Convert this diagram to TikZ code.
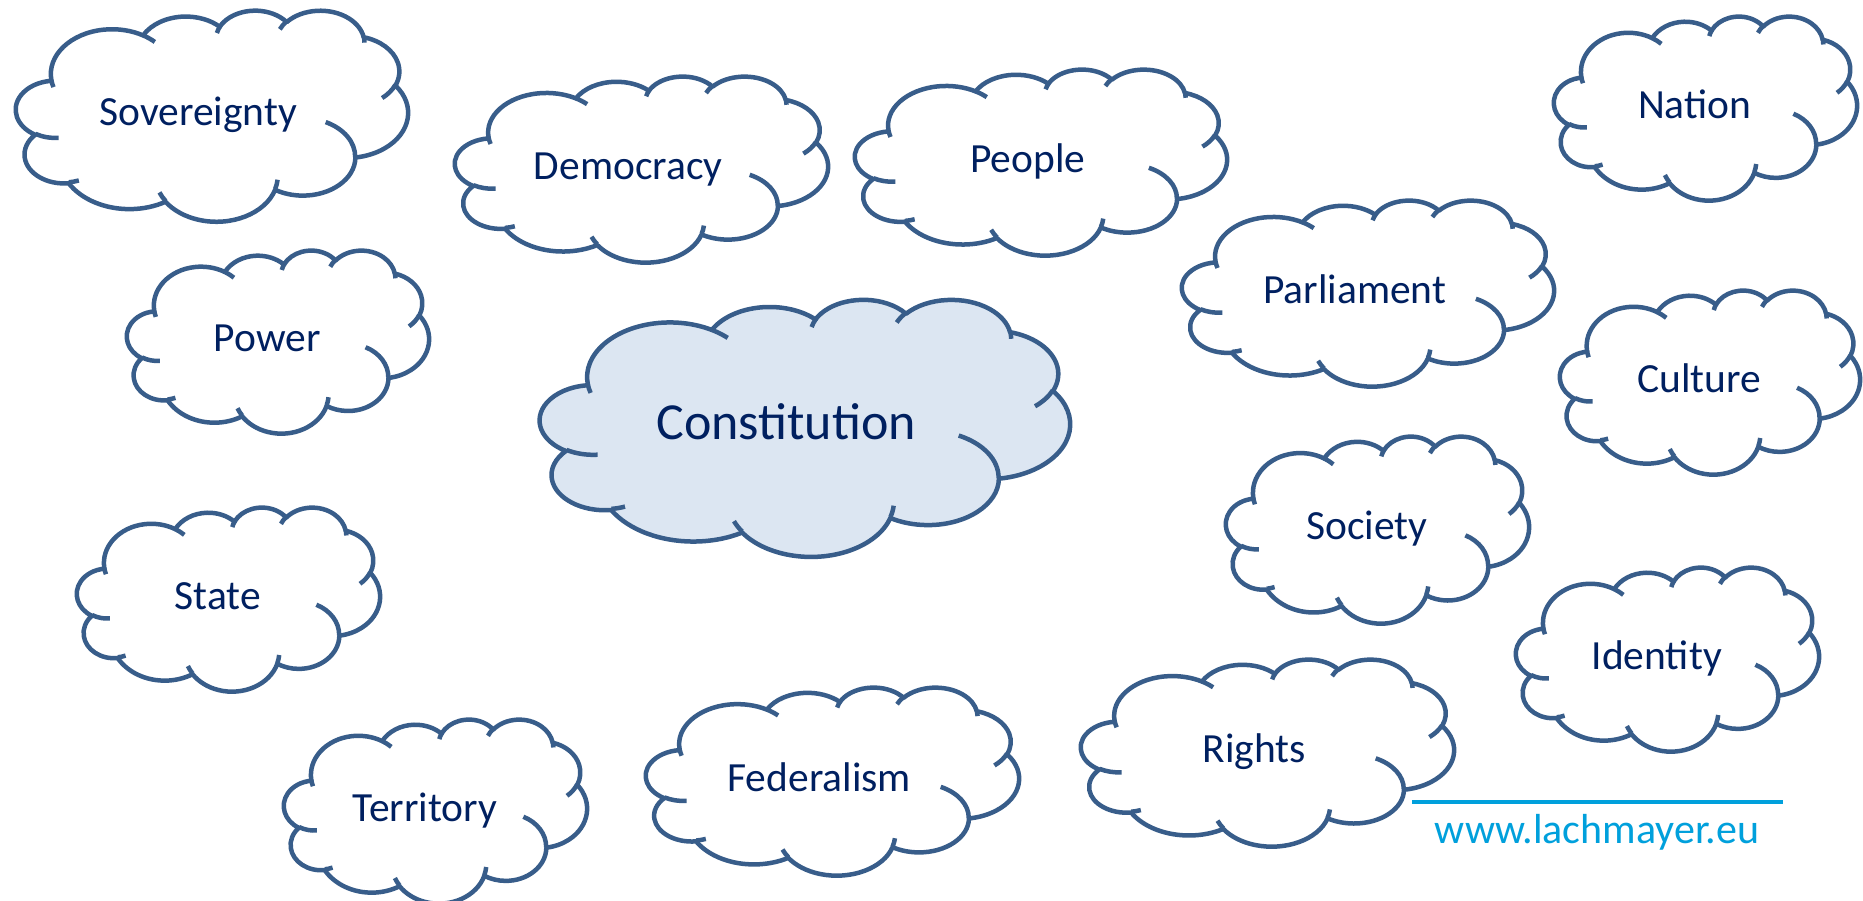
\documentclass[tikz,border=0pt]{standalone}
\usepackage{fontspec}
\setmainfont{Carlito}
\definecolor{cloudline}{RGB}{56,93,138}
\definecolor{cloudtext}{RGB}{0,32,96}
\definecolor{cloudfill}{RGB}{220,230,242}
\definecolor{webblue}{RGB}{0,160,220}

% cloud outline: x radius/y radius/start/sweep, in a 432 x 432 box
\newcommand{\outerarcs}{67.53/91.90/-190.4875/123.7805, 53.33/72.67/-144.1024/89.9452,
  43.65/59.45/-145.8079/99.7230, 48.57/65.95/-130.9861/117.2417,
  53.33/72.73/-78.7089/109.0269, 67.75/92.20/-46.2673/130.2690,
  57.85/78.67/0.6250/114.0333, 67.52/92.15/22.4516/115.1726,
  77.20/105.43/66.2426/75.7110, 43.60/59.18/-274.9421/146.7356,
  43.45/59.45/-246.8285/152.5189}
% inner strokes: start x/start y/x radius/y radius/start/sweep
\newcommand{\innerarcs}{46.93/261.77/43.45/59.45/86.7420/26.4295,
  69.28/348.99/43.60/59.18/73.6105/11.4475,
  164.78/390.90/67.52/92.15/137.6242/14.0811,
  288.27/347.51/67.52/92.15/6.4533/15.9984,
  341.29/229.54/57.85/78.67/-70.2924/70.9174,
  417.98/153.54/53.33/72.73/30.3180/27.7515,
  383.24/54.26/48.57/65.95/-13.7443/14.8589,
  290.78/39.52/48.57/65.95/-149.1815/18.1954,
  221.41/47.20/43.65/59.45/-163.4943/17.6864,
  140.00/51.92/67.53/91.90/-66.7070/12.3194,
  41.27/157.89/67.53/91.90/157.6544/11.8582}

% \cloud[font size]{name}{left}{top}{width}{height}{fill}{text}
\newcommand{\cloud}[8][41.5]{%
  \pgfmathsetmacro{\cloudw}{#5/432}%
  \pgfmathsetmacro{\cloudh}{#6/432}%
  \pgfmathsetmacro{\cloudx}{#3}%
  \pgfmathsetmacro{\cloudy}{900-#4}%
  \draw[cloud line, fill=#7] ({\cloudx+39*\cloudw},{\cloudy-143.7*\cloudh})
    \foreach \ra/\rb/\sa/\sw in \outerarcs {
      arc[x radius={\ra*\cloudw pt}, y radius={\rb*\cloudh pt},
        start angle={-vis(\ra,\rb,\sa)},
        end angle={-vis(\ra,\rb,\sa+\sw)-360*round((vis(\ra,\rb,\sa)+\sw-vis(\ra,\rb,\sa+\sw))/360)}]
    } -- cycle;
  \draw[cloud line]
    \foreach \mx/\my/\ra/\rb/\sa/\sw in \innerarcs {
      ({\cloudx+\mx*\cloudw},{\cloudy-\my*\cloudh})
      arc[x radius={\ra*\cloudw pt}, y radius={\rb*\cloudh pt},
        start angle={-vis(\ra,\rb,\sa)},
        end angle={-vis(\ra,\rb,\sa+\sw)-360*round((vis(\ra,\rb,\sa)+\sw-vis(\ra,\rb,\sa+\sw))/360)}]
    };
  \node[cloud label, font=\fontsize{#1}{#1}\selectfont] (#2)
    at ({\cloudx+0.4644*#5},{\cloudy-0.4768*#6-0.35*#1}) {#8};
}

\begin{document}
\begin{tikzpicture}[x=1pt, y=1pt,
  declare function={vis(\rx,\ry,\an)=atan2(\rx*sin(\an),\ry*cos(\an));},
  cloud line/.style={draw=cloudline, line width=4.5pt, line join=round},
  cloud label/.style={text=cloudtext, inner sep=0pt, anchor=base}]
\fill[white] (0,0) rectangle (1863,900);
\useasboundingbox (0,0) rectangle (1863,900);

\cloud{sov}{16}{10}{392}{211}{white}{Sovereignty}
\cloud{dem}{455}{76}{373}{186}{white}{Democracy}
\cloud{peo}{855}{69}{372}{186}{white}{People}
\cloud{nat}{1554}{16}{303}{184}{white}{Nation}
\cloud{par}{1182}{200}{372}{186}{white}{Parliament}
\cloud{pow}{127}{250}{302}{183}{white}{Power}
\cloud[52]{con}{540}{299}{530}{257}{cloudfill}{Constitution}
\cloud{cul}{1560}{290}{300}{184}{white}{Culture}
\cloud{soc}{1226}{436}{303}{187}{white}{Society}
\cloud{sta}{77}{507}{303}{184}{white}{State}
\cloud{ide}{1516}{567}{303}{184}{white}{Identity}
\cloud{rig}{1081}{659}{373}{187}{white}{Rights}
\cloud{ter}{284}{719}{303}{184}{white}{Territory}
\cloud{fed}{646}{687}{373}{188}{white}{Federalism}

% web address
\coordinate (rulel) at (1412,98);
\coordinate (ruler) at (1783,98);
\draw[webblue, line width=3.5pt] (rulel) -- (ruler);
\node[anchor=base, inner sep=0pt, text=webblue, font=\fontsize{42}{42}\selectfont]
  (web) at (1597,57) {www.lachmayer.eu};
\end{tikzpicture}
\end{document}
